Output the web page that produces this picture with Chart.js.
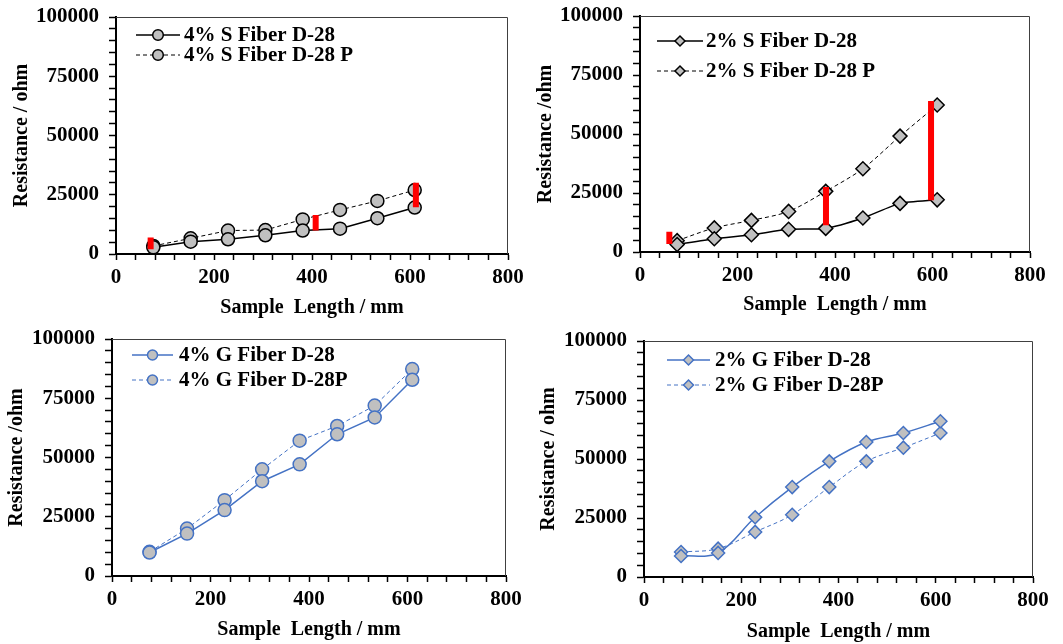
<!DOCTYPE html>
<html>
<head>
<meta charset="utf-8">
<script src="https://cdn.jsdelivr.net/npm/chart.js@4"></script>
<style>
  body { margin: 0; background: #fff; }
  .panel { position: absolute; }
</style>
</head>
<body>
<div class="panel" style="left:0;top:0"><canvas id="c1" width="530" height="322"></canvas></div>
<div class="panel" style="left:530px;top:0"><canvas id="c2" width="533" height="322"></canvas></div>
<div class="panel" style="left:0;top:322px"><canvas id="c3" width="530" height="322"></canvas></div>
<div class="panel" style="left:530px;top:322px"><canvas id="c4" width="533" height="322"></canvas></div>
<script>
// sample lengths (3 in steps) in mm
const lengthMm = [76.2, 152.4, 228.6, 304.8, 381, 457.2, 533.4, 609.6];

// resistance in ohm
const s4 = [2800, 5200, 6200, 7900, 9900, 10700, 15100, 19600];
const s4P = [3400, 6600, 9900, 10100, 14600, 18600, 22400, 27000];
const s2 = [3200, 5600, 7300, 9600, 10000, 14400, 20600, 22100];
const s2P = [4800, 10200, 13400, 17200, 25700, 35300, 49100, 62300];
const g4 = [9900, 17900, 27800, 40000, 47100, 59800, 66900, 82800];
const g4P = [10200, 20000, 32000, 45000, 57100, 63300, 71900, 87300];
const g2 = [8900, 10200, 25300, 38100, 49000, 57200, 61000, 66000];
const g2P = [10600, 12000, 19100, 26400, 38100, 49000, 54800, 61000];

// red gap markers between the two S fiber curves
const s4GapX = [70.7, 407.5, 612];
const s4GapLow = [2000, 9900, 19700];
const s4GapHigh = [7000, 16500, 30100];
const s2GapX = [60.2, 381.5, 597];
const s2GapLow = [3400, 11300, 21900];
const s2GapHigh = [8600, 27500, 64000];

const xTicks = [0, 200, 400, 600, 800];
const yTicks = [0, 25000, 50000, 75000, 100000];

const FONT = '"Liberation Serif", "Times New Roman", serif';
const GREY = '#c0c0c0';
const BLUE = '#4472c4';

function series(label, ys, color, dashed, style, tension, radius) {
  return {
    label,
    data: lengthMm.map((x, i) => ({ x, y: ys[i] })),
    borderColor: color,
    borderWidth: dashed ? 1 : 1.5,
    borderDash: dashed ? [4, 3] : [],
    tension: tension,
    pointStyle: style,
    pointRadius: radius,
    pointBackgroundColor: GREY,
    pointBorderColor: color,
    pointBorderWidth: 1.5,
    fill: false
  };
}

function gapBars(xs, lo, hi) {
  const pts = [];
  xs.forEach((x, i) => { pts.push({ x, y: lo[i] }, { x, y: hi[i] }, { x, y: null }); });
  return {
    label: '',
    data: pts,
    borderColor: '#ff0000',
    borderWidth: 6,
    borderCapStyle: 'butt',
    pointRadius: 0,
    spanGaps: false,
    order: -1
  };
}

// top and right edges of the plot box
const frame = {
  id: 'frame',
  beforeDatasetsDraw(chart) {
    const { ctx, chartArea: a } = chart;
    ctx.save();
    ctx.strokeStyle = '#404040';
    ctx.lineWidth = 1;
    ctx.beginPath();
    ctx.moveTo(a.left, a.top + 0.5);
    ctx.lineTo(a.right - 0.5, a.top + 0.5);
    ctx.lineTo(a.right - 0.5, a.bottom);
    ctx.stroke();
    ctx.restore();
  }
};

function marker(ctx, style, x, y, r) {
  ctx.beginPath();
  if (style === 'rectRot') {
    ctx.moveTo(x - r, y); ctx.lineTo(x, y - r); ctx.lineTo(x + r, y); ctx.lineTo(x, y + r); ctx.closePath();
  } else {
    ctx.arc(x, y, r, 0, Math.PI * 2);
  }
  ctx.fill();
  ctx.stroke();
}

// legend drawn inside the plot area, top left
const insideLegend = {
  id: 'insideLegend',
  afterDraw(chart, args, o) {
    const { ctx, chartArea: a } = chart;
    chart.data.datasets.forEach((ds, i) => {
      if (!ds.label) return;
      const y = a.top + o.rows[i];
      const x0 = a.left + o.x;
      ctx.save();
      ctx.strokeStyle = ds.borderColor;
      ctx.lineWidth = ds.borderWidth;
      ctx.setLineDash(ds.borderDash);
      ctx.beginPath();
      ctx.moveTo(x0, y);
      ctx.lineTo(x0 + o.len, y);
      ctx.stroke();
      ctx.setLineDash([]);
      ctx.fillStyle = ds.pointBackgroundColor;
      ctx.strokeStyle = ds.pointBorderColor;
      ctx.lineWidth = ds.pointBorderWidth;
      marker(ctx, ds.pointStyle, x0 + o.len / 2, y, o.radius);
      ctx.fillStyle = '#000';
      ctx.font = 'bold 21px ' + FONT;
      ctx.textBaseline = 'middle';
      ctx.fillText(ds.label, x0 + o.len + o.gap, y + 1);
      ctx.restore();
    });
  }
};

function makeChart(id, datasets, p) {
  const tickFont = { family: FONT, size: 21, weight: 'bold' };
  const titleFont = { family: FONT, size: 20, weight: 'bold' };
  new Chart(document.getElementById(id), {
    type: 'line',
    data: { datasets },
    options: {
      responsive: false,
      animation: false,
      layout: { padding: { top: p.top, right: p.right, left: 0, bottom: 0 } },
      plugins: {
        legend: { display: false },
        tooltip: { enabled: false },
        insideLegend: p.legend
      },
      scales: {
        x: {
          type: 'linear',
          min: 0, max: 800,
          afterFit: s => { s.height = p.xh; },
          border: { color: '#000', width: 2 },
          grid: { drawOnChartArea: false, tickLength: 6, color: '#000', tickWidth: 1.5 },
          ticks: {
            stepSize: 40, autoSkip: false, maxRotation: 0, padding: 5,
            color: '#000', font: tickFont,
            callback: v => xTicks.includes(v) ? String(v) : ''
          },
          title: { display: true, text: 'Sample  Length / mm', color: '#000', font: titleFont, padding: { top: 0, bottom: p.xpb } }
        },
        y: {
          min: 0, max: 100000,
          afterFit: s => { s.width = p.yw; s.paddingTop = 0; s.paddingBottom = 0; },
          border: { color: '#000', width: 2 },
          grid: { drawOnChartArea: false, tickLength: 7, color: '#000', tickWidth: 1.5 },
          ticks: {
            stepSize: 5000, autoSkip: false, padding: 10,
            color: '#000', font: tickFont,
            callback: v => yTicks.includes(v) ? String(v) : ''
          },
          title: { display: true, text: p.ytitle, color: '#000', font: titleFont, padding: { top: p.ypt, bottom: 0 } }
        }
      }
    },
    plugins: [frame, insideLegend]
  });
}

makeChart('c1', [
  series('4% S Fiber D-28', s4, '#000', false, 'circle', 0, 6.5),
  series('4% S Fiber D-28 P', s4P, '#000', true, 'circle', 0, 6.5),
  gapBars(s4GapX, s4GapLow, s4GapHigh)
], { top: 17, right: 22, yw: 116, xh: 68, ypt: 10, xpb: 2, ytitle: 'Resistance / ohm',
     legend: { x: 20, len: 44, gap: 4, radius: 5.3, rows: [18, 38] } });

makeChart('c2', [
  series('2% S Fiber D-28', s2, '#000', false, 'rectRot', 0.2, 7),
  series('2% S Fiber D-28 P', s2P, '#000', true, 'rectRot', 0.3, 7),
  gapBars(s2GapX, s2GapLow, s2GapHigh)
], { top: 16, right: 33, yw: 110, xh: 70, ypt: 4, xpb: 5, ytitle: 'Resistance /ohm',
     legend: { x: 17, len: 46, gap: 3, radius: 5, rows: [25, 55] } });

makeChart('c3', [
  series('4% G Fiber D-28', g4, BLUE, false, 'circle', 0, 6.5),
  series('4% G Fiber D-28P', g4P, BLUE, true, 'circle', 0, 6.5)
], { top: 17, right: 24, yw: 112, xh: 68, ypt: 5, xpb: 2, ytitle: 'Resistance /ohm',
     legend: { x: 20, len: 41, gap: 6, radius: 5, rows: [16, 41] } });

makeChart('c4', [
  series('2% G Fiber D-28', g2, BLUE, false, 'rectRot', 0.35, 6.5),
  series('2% G Fiber D-28P', g2P, BLUE, true, 'rectRot', 0.35, 6.5)
], { top: 19, right: 30, yw: 114, xh: 67, ypt: 7, xpb: 0, ytitle: 'Resistance / ohm',
     legend: { x: 23, len: 43, gap: 5, radius: 5, rows: [19, 44] } });
</script>
</body>
</html>
